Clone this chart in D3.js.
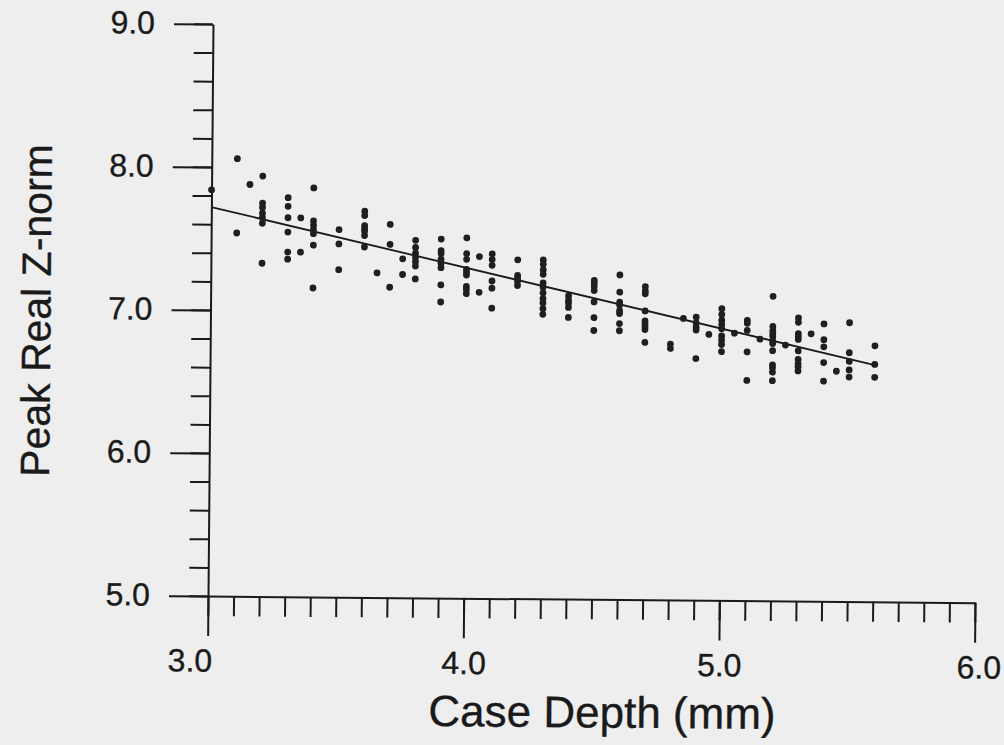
<!DOCTYPE html>
<html>
<head>
<meta charset="utf-8">
<script src="https://cdn.jsdelivr.net/npm/d3@7"></script>
<style>
  html, body { margin: 0; padding: 0; background: #eeeeee; }
  svg { display: block; }
  text { font-family: "Liberation Sans", Arial, sans-serif; fill: #1a1a1a; stroke: #1a1a1a; stroke-width: 0.35px; }
</style>
</head>
<body>
<svg id="chart" width="1004" height="745"></svg>
<script>
// ---- data ----
const caseDepth = [3.0, 3.1, 3.15, 3.2, 3.3, 3.35, 3.4, 3.5, 3.6, 3.65, 3.7, 3.75, 3.8, 3.9, 4.0, 4.05, 4.1, 4.2, 4.3, 4.4, 4.5, 4.6, 4.7, 4.8, 4.85, 4.9, 4.95, 5.0, 5.05, 5.1, 5.15, 5.2, 5.25, 5.3, 5.35, 5.4, 5.45, 5.5, 5.6];
const peakZnorm = [
  [7.84],
  [8.06, 7.54],
  [7.88],
  [7.94, 7.75, 7.72, 7.68, 7.65, 7.61, 7.33],
  [7.79, 7.73, 7.65, 7.55, 7.41, 7.36],
  [7.65, 7.41],
  [7.86, 7.63, 7.60, 7.57, 7.54, 7.46, 7.16],
  [7.57, 7.47, 7.29],
  [7.70, 7.67, 7.60, 7.58, 7.56, 7.53, 7.45],
  [7.27],
  [7.61, 7.47, 7.17],
  [7.37, 7.26],
  [7.50, 7.45, 7.41, 7.38, 7.35, 7.32, 7.23],
  [7.51, 7.43, 7.41, 7.37, 7.34, 7.31, 7.19, 7.07],
  [7.52, 7.41, 7.37, 7.30, 7.28, 7.26, 7.18, 7.16, 7.13],
  [7.39, 7.14],
  [7.41, 7.37, 7.33, 7.22, 7.17, 7.03],
  [7.37, 7.26, 7.24, 7.22, 7.19],
  [7.37, 7.34, 7.30, 7.27, 7.21, 7.18, 7.14, 7.10, 7.07, 7.03, 6.99],
  [7.12, 7.09, 7.07, 7.04, 6.97],
  [7.23, 7.21, 7.19, 7.16, 7.08, 6.97, 6.88],
  [7.27, 7.15, 7.08, 7.06, 7.02, 7.00, 6.93, 6.88],
  [7.19, 7.16, 7.14, 7.02, 6.95, 6.93, 6.91, 6.89, 6.80],
  [6.79, 6.76],
  [6.97],
  [6.98, 6.94, 6.91, 6.89, 6.69],
  [6.86],
  [7.04, 7.00, 6.96, 6.93, 6.90, 6.85, 6.82, 6.79, 6.74],
  [6.87],
  [6.96, 6.94, 6.89, 6.74, 6.54],
  [6.83],
  [7.13, 6.92, 6.89, 6.87, 6.85, 6.82, 6.80, 6.75, 6.65, 6.63, 6.60, 6.54],
  [6.79],
  [6.98, 6.95, 6.87, 6.85, 6.83, 6.75, 6.69, 6.66, 6.64, 6.61],
  [6.87],
  [6.94, 6.83, 6.78, 6.67, 6.54],
  [6.61],
  [6.95, 6.74, 6.68, 6.62, 6.57],
  [6.79, 6.66, 6.57]
];
const fitDepth = [3.0, 5.6];
const fitZnorm = [7.72, 6.655];
const xMajorTicks = [3, 4, 5, 6];
const xTickLabels = ["3.0", "4.0", "5.0", "6.0"];
const yMajorTicks = [5, 6, 7, 8, 9];
const yTickLabels = ["5.0", "6.0", "7.0", "8.0", "9.0"];
const xTitle = "Case Depth (mm)";
const yTitle = "Peak Real Z-norm";

// ---- drawing ----
const svg = d3.select("#chart");
const x = d3.scaleLinear().domain([3, 6]).range([208, 975]);
const y = d3.scaleLinear().domain([5, 9]).range([596, 24]);

// scanned page is rotated a hair clockwise
const g = svg.append("g").attr("transform", "rotate(0.5, 208, 596)");

const xMinor = d3.range(30, 61).map(d => d / 10);
const yMinor = d3.range(25, 46).map(d => d / 5);

function styleAxis(sel) {
  sel.selectAll("line").attr("stroke", "#1a1a1a").attr("stroke-width", 2);
  sel.selectAll("path").attr("stroke", "#1a1a1a").attr("stroke-width", 2);
}

// x axis minor ticks + domain
g.append("g").attr("transform", `translate(0,${y(5)})`)
  .call(d3.axisBottom(x).tickValues(xMinor).tickSize(20).tickSizeOuter(0).tickFormat(""))
  .call(styleAxis);
// x axis major ticks + labels
const xMaj = g.append("g").attr("transform", `translate(0,${y(5)})`)
  .call(d3.axisBottom(x).tickValues(xMajorTicks).tickSize(40).tickSizeOuter(0)
    .tickPadding(13).tickFormat((d, i) => xTickLabels[i]))
  .call(styleAxis);
xMaj.select(".domain").remove();
xMaj.selectAll("text").attr("font-size", 32).attr("font-family", null)
  .attr("fill", "#1a1a1a")
  .attr("dx", (d, i) => i === 0 ? -18 : (i === 3 ? 4 : 0));

// y axis minor ticks + domain
g.append("g").attr("transform", `translate(${x(3)},0)`)
  .call(d3.axisLeft(y).tickValues(yMinor).tickSize(19).tickSizeOuter(0).tickFormat(""))
  .call(styleAxis);
const yMaj = g.append("g").attr("transform", `translate(${x(3)},0)`)
  .call(d3.axisLeft(y).tickValues(yMajorTicks).tickSize(39).tickSizeOuter(0)
    .tickPadding(19).tickFormat((d, i) => yTickLabels[i]))
  .call(styleAxis);
yMaj.select(".domain").remove();
yMaj.selectAll("text").attr("font-size", 32).attr("font-family", null)
  .attr("fill", "#1a1a1a").attr("dy", "0.3em");

// regression line
g.append("line")
  .attr("x1", x(fitDepth[0])).attr("y1", y(fitZnorm[0]))
  .attr("x2", x(fitDepth[1])).attr("y2", y(fitZnorm[1]))
  .attr("stroke", "#1a1a1a").attr("stroke-width", 1.8);

// points
const pts = [];
caseDepth.forEach((cd, i) => peakZnorm[i].forEach(v => pts.push([cd, v])));
g.append("g").selectAll("circle").data(pts).join("circle")
  .attr("cx", d => x(d[0])).attr("cy", d => y(d[1]))
  .attr("r", 3.4).attr("fill", "#1f1f1f");

// titles
g.append("text").attr("x", 603).attr("y", 724).attr("text-anchor", "middle")
  .attr("font-size", 44).text(xTitle);
g.append("text").attr("transform", "translate(48,312) rotate(-90)")
  .attr("text-anchor", "middle").attr("font-size", 41).text(yTitle);
</script>
</body>
</html>
